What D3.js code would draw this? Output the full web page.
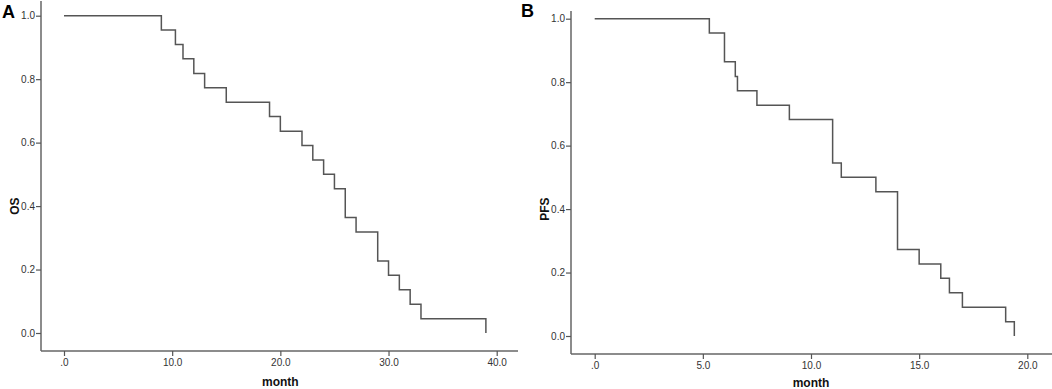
<!DOCTYPE html>
<html>
<head>
    <style>
        body { margin: 0; background: #fff; }
        .km { fill: none; stroke: #555; stroke-width: 1.5; }
        .tick text { font-family: "Liberation Sans", Arial, sans-serif; font-size: 10px; fill: #333; }
        .tick line { stroke: #555; stroke-width: 1.2; }
        .frame { stroke: #666; stroke-width: 1.5; }
        .title { font-family: "Liberation Sans", Arial, sans-serif; font-weight: bold; font-size: 12px; fill: #111; }
        .panel { font-family: "Liberation Sans", Arial, sans-serif; font-weight: bold; font-size: 18px; fill: #000; }
    </style>
    <script src="https://d3js.org/d3.v7.min.js"></script>
</head>
<body>

<svg width="1052" height="389"></svg>

<script>
    // overall survival (panel A)
    var osMonths = [0, 9, 10.3, 11, 12, 13, 15, 19, 20, 22, 23, 24, 25, 26, 27, 29, 30, 31, 32, 33, 39];
    var osSurv = [1.0, 0.955, 0.909, 0.864, 0.818, 0.773, 0.727, 0.682, 0.636, 0.591, 0.545, 0.5, 0.455, 0.364, 0.318, 0.227, 0.182, 0.136, 0.091, 0.045, 0.0];

    // progression free survival (panel B)
    var pfsMonths = [0, 5.3, 6.0, 6.5, 6.6, 7.5, 9.0, 11.0, 11.4, 13.0, 14.0, 15.0, 16.0, 16.4, 17.0, 19.0, 19.4];
    var pfsSurv = [1.0, 0.955, 0.864, 0.818, 0.773, 0.727, 0.682, 0.545, 0.5, 0.455, 0.273, 0.227, 0.182, 0.136, 0.091, 0.045, 0.0];

    var osXTicks = [0, 10, 20, 30, 40];
    var pfsXTicks = [0, 5, 10, 15, 20];
    var yTicks = [0, 0.2, 0.4, 0.6, 0.8, 1.0];

    var svg = d3.select("svg");

    var xFmt = function(d) { return d === 0 ? ".0" : d3.format(".1f")(d); };
    var yFmt = d3.format(".1f");

    function panel(opts) {
        var g = svg.append("g");

        var x = d3.scaleLinear().domain(opts.xDomain).range(opts.xRange);
        var y = d3.scaleLinear().domain([0, 1]).range(opts.yRange);

        // axis frame lines
        g.append("line").attr("class", "frame")
            .attr("x1", opts.axisX).attr("x2", opts.axisX)
            .attr("y1", opts.axisTop).attr("y2", opts.axisY);
        g.append("line").attr("class", "frame")
            .attr("x1", opts.axisX).attr("x2", opts.axisRight)
            .attr("y1", opts.axisY).attr("y2", opts.axisY);

        var yAxis = g.append("g")
            .attr("transform", "translate(" + opts.axisX + ",0)")
            .call(d3.axisLeft(y).tickValues(yTicks).tickFormat(yFmt).tickSize(5).tickPadding(1));
        yAxis.select(".domain").remove();

        var xAxis = g.append("g")
            .attr("transform", "translate(0," + opts.axisY + ")")
            .call(d3.axisBottom(x).tickValues(opts.xTicks).tickFormat(xFmt).tickSize(5).tickPadding(3));
        xAxis.select(".domain").remove();

        var pts = opts.months.map(function(m, i) { return [m, opts.surv[i]]; });
        var line = d3.line()
            .x(function(d) { return x(d[0]); })
            .y(function(d) { return y(d[1]); })
            .curve(d3.curveStepAfter);

        g.append("path")
            .datum(pts)
            .attr("class", "km")
            .attr("d", line);

        // axis titles
        g.append("text").attr("class", "title")
            .attr("text-anchor", "middle")
            .attr("x", x((opts.xDomain[0] + opts.xDomain[1]) / 2))
            .attr("y", Math.min(opts.axisY + 35, 387))
            .text("month");

        g.append("text").attr("class", "title")
            .attr("text-anchor", "middle")
            .attr("transform", "translate(" + (opts.axisX - 22) + "," + y(0.4) + ") rotate(-90)")
            .text(opts.yLabel);

        g.append("text").attr("class", "panel")
            .attr("x", opts.labelX)
            .attr("y", opts.labelY)
            .text(opts.letter);
    }

    panel({
        months: osMonths, surv: osSurv, xTicks: osXTicks,
        xDomain: [0, 40], xRange: [64, 496.7], yRange: [333, 15.7],
        axisX: 41, axisY: 351, axisTop: 1, axisRight: 518,
        yLabel: "OS", letter: "A", labelX: 2, labelY: 18
    });

    panel({
        months: pfsMonths, surv: pfsSurv, xTicks: pfsXTicks,
        xDomain: [0, 20], xRange: [594.7, 1027.3], yRange: [336, 18.7],
        axisX: 571, axisY: 354, axisTop: 11, axisRight: 1052,
        yLabel: "PFS", letter: "B", labelX: 521, labelY: 17
    });
</script>
</body>
</html>
